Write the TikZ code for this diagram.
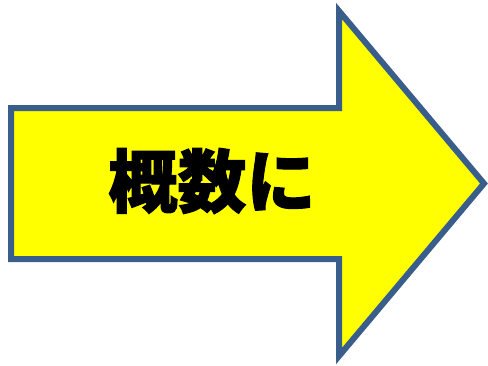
\documentclass[tikz,border=0pt]{standalone}
\usepackage{fontspec}
\newfontfamily\cjk{Noto Sans CJK JP}[BoldFeatures={FakeBold=1.5}]
\definecolor{arrowblue}{HTML}{3A5E8C}
\definecolor{arrowyellow}{HTML}{FFFF00}
\begin{document}
\begin{tikzpicture}[x=1pt,y=-1pt,
  arrowshape/.style={draw=arrowblue,fill=arrowyellow,line width=6pt,line join=miter,miter limit=10},
  label/.style={font=\cjk\bfseries\fontsize{69}{69}\selectfont,inner sep=0pt}]
\useasboundingbox (0,0) rectangle (488,365);
\draw[arrowshape] (11,108) -- (339,108) -- (339,11) -- (484,183.5) -- (339,356) -- (339,259) -- (11,259) -- cycle;
\node[label] (t) at (212,181) {概数に};
\end{tikzpicture}
\end{document}
